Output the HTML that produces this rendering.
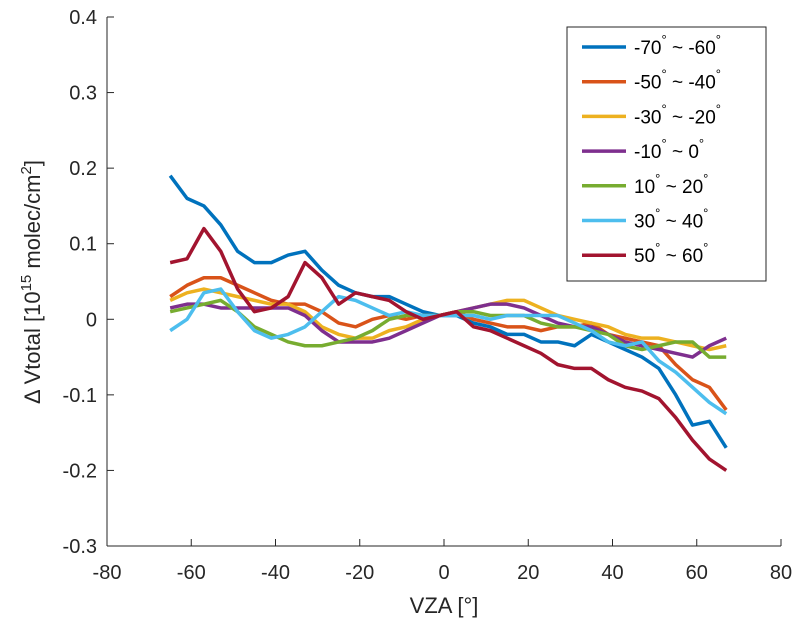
<!DOCTYPE html>
<html><head><meta charset="utf-8"><style>
body{margin:0;background:#fff}
svg{font-family:"Liberation Sans",Arial,sans-serif}
</style></head><body>
<svg id="c" width="804" height="632" viewBox="0 0 804 632"></svg>
<script>
const xs=[-65,-61,-57,-53,-49,-45,-41,-37,-33,-29,-25,-21,-17,-13,-9,-5,-1,3,7,11,15,19,23,27,31,35,39,43,47,51,55,59,63,67];
const sBlue=[.19,.16,.15,.125,.09,.075,.075,.085,.09,.065,.045,.035,.03,.03,.02,.01,.005,.005,-.005,-.01,-.02,-.02,-.03,-.03,-.035,-.02,-.03,-.04,-.05,-.065,-.1,-.14,-.135,-.17];
const sOrange=[.03,.045,.055,.055,.045,.035,.025,.02,.02,.01,-.005,-.01,0,.005,0,.005,.005,.01,0,-.005,-.01,-.01,-.015,-.01,-.01,-.005,-.02,-.025,-.03,-.035,-.06,-.08,-.09,-.12];
const sYellow=[.025,.035,.04,.035,.03,.025,.02,.02,.01,-.01,-.02,-.025,-.025,-.015,-.01,0,.005,.01,.015,.02,.025,.025,.015,.005,0,-.005,-.01,-.02,-.025,-.025,-.03,-.035,-.04,-.035];
const sPurple=[.015,.02,.02,.015,.015,.015,.015,.015,.005,-.015,-.03,-.03,-.03,-.025,-.015,-.005,.005,.01,.015,.02,.02,.015,.005,-.005,-.01,-.01,-.02,-.03,-.035,-.04,-.045,-.05,-.035,-.025];
const sGreen=[.01,.015,.02,.025,.01,-.01,-.02,-.03,-.035,-.035,-.03,-.025,-.015,0,.005,.005,.005,.01,.01,.005,.005,.005,-.005,-.01,-.01,-.015,-.02,-.035,-.04,-.035,-.03,-.03,-.05,-.05];
const sCyan=[-.015,0,.035,.04,.01,-.015,-.025,-.02,-.01,.01,.03,.025,.015,.005,.01,.005,.005,.005,.005,0,.005,.005,.005,.005,-.005,-.015,-.03,-.035,-.03,-.055,-.07,-.09,-.11,-.125];
const sRed=[.075,.08,.12,.09,.04,.01,.015,.03,.075,.055,.02,.035,.03,.025,.01,0,.005,.01,-.01,-.015,-.025,-.035,-.045,-.06,-.065,-.065,-.08,-.09,-.095,-.105,-.13,-.16,-.185,-.2];
const xTicks=[-80,-60,-40,-20,0,20,40,60,80];
const yTicks=[-0.3,-0.2,-0.1,0,0.1,0.2,0.3,0.4];
const seriesNames=["-70","-50","-30","-10","10","30","50"];
const seriesNames2=["-60","-40","-20","0","20","40","60"];
const series=[sBlue,sOrange,sYellow,sPurple,sGreen,sCyan,sRed];
const colors=["#0072BD","#D95319","#EDB120","#7E2F8E","#77AC30","#4DBEEE","#A2142F"];
const NS="http://www.w3.org/2000/svg",svg=document.getElementById('c');
const X0=107,X1=781,Y0=546,Y1=17;
const sx=v=>X0+(v+80)/160*(X1-X0), sy=v=>Y0-(v+0.3)/0.7*(Y0-Y1);
function mk(t,a,p){const e=document.createElementNS(NS,t);for(const k in a)e.setAttribute(k,a[k]);(p||svg).appendChild(e);return e;}
let e=mk('line',{x1:X0,y1:Y1,x2:X0,y2:Y0,stroke:'#262626','stroke-width':1});

e=mk('line',{x1:X0,y1:Y0,x2:X1,y2:Y0,stroke:'#262626','stroke-width':1});

xTicks.forEach(t=>{const x=sx(t);mk('line',{x1:x,y1:Y0,x2:x,y2:Y0-7,stroke:'#262626'});
 const tx=mk('text',{x:x,y:Y0+33,'text-anchor':'middle','font-size':20,fill:'#262626'});tx.textContent=t;
 });
yTicks.forEach(t=>{const y=sy(t);mk('line',{x1:X0,y1:y,x2:X0+7,y2:y,stroke:'#262626'});
 const tx=mk('text',{x:X0-10,y:y+7,'text-anchor':'end','font-size':20,fill:'#262626'});tx.textContent=(Math.round(t*10)/10).toString();
 });
e=mk('text',{x:444,y:613,'text-anchor':'middle','font-size':22,fill:'#262626'});e.textContent='VZA [°]';

e=mk('text',{x:0,y:0,'text-anchor':'middle','font-size':22,fill:'#262626',transform:'translate(40,282) rotate(-90)'});
e.innerHTML='Δ Vtotal [10<tspan dy="-9" font-size="15">15</tspan><tspan dy="9"> molec/cm</tspan><tspan dy="-9" font-size="15">2</tspan><tspan dy="9">]</tspan>';

series.forEach((s,i)=>{const p=mk('polyline',{points:s.map((v,j)=>sx(xs[j])+','+sy(v)).join(' '),fill:'none',stroke:colors[i],'stroke-width':3.5,'stroke-linejoin':'round'});
 });
const lg=mk('g',{});
mk('rect',{x:567,y:27,width:199,height:254,fill:'#fff',stroke:'#262626'},lg);
seriesNames.forEach((n,i)=>{const y=47+i*34.7;
 mk('line',{x1:582,y1:y,x2:626,y2:y,stroke:colors[i],'stroke-width':3.5},lg);
 const t=mk('text',{x:634,y:y+7,'font-size':19,fill:'#000'},lg);
 t.innerHTML=n+'<tspan dy="-10" font-size="13">°</tspan><tspan dy="10"> ~ '+seriesNames2[i]+'</tspan><tspan dy="-10" font-size="13">°</tspan>';
 });
</script>
</body></html>
